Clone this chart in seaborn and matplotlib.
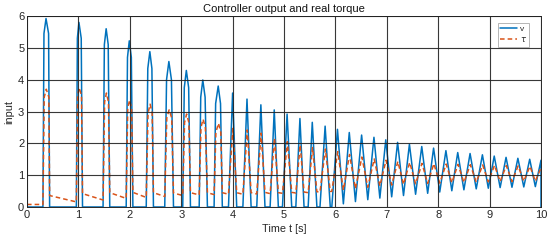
import numpy as np
import pandas as pd
import matplotlib
matplotlib.use("Agg")
import matplotlib.pyplot as plt
import seaborn as sns

# ---- data ----
peak_t = [0.37, 1.01, 1.54, 1.99, 2.39, 2.76, 3.10, 3.42, 3.72, 4.00, 4.28, 4.55,
          4.81, 5.06, 5.31, 5.55, 5.80, 6.04, 6.27, 6.51, 6.75, 6.98, 7.21, 7.44,
          7.68, 7.91, 8.15, 8.38, 8.62, 8.86, 9.09, 9.32, 9.55, 9.78, 10.0]
v_peak = [5.92, 5.80, 5.60, 5.22, 4.88, 4.57, 4.29, 3.99, 3.80, 3.58, 3.39, 3.21,
          3.05, 2.92, 2.78, 2.66, 2.54, 2.44, 2.34, 2.26, 2.19, 2.11, 2.03, 1.97,
          1.90, 1.85, 1.77, 1.71, 1.68, 1.64, 1.60, 1.56, 1.53, 1.50, 1.47]
tau_peak = [3.70, 3.75, 3.58, 3.36, 3.23, 3.05, 2.92, 2.76, 2.63, 2.47, 2.42, 2.32,
            2.16, 2.05, 1.95, 1.87, 1.82, 1.74, 1.65, 1.57, 1.51, 1.47, 1.43, 1.40,
            1.37, 1.36, 1.35, 1.34, 1.33, 1.32, 1.31, 1.30, 1.29, 1.28, 1.25]

# rounded tops of the first (large) pulses: shoulder points left / right
shoulder_l_t = [0.33, 0.98, 1.505, 1.955, 2.35, 2.715, 3.06, 3.38, 3.67]
shoulder_r_t = [0.42, 1.055, 1.58, 2.03, 2.43, 2.81, 3.145, 3.465, 3.765]
v_shoulder = [5.45, 5.30, 5.10, 4.70, 4.35, 4.00, 3.75, 3.45, 3.25]
tau_shoulder = [3.45, 3.50, 3.30, 3.10, 2.95, 2.80, 2.65, 2.50, 2.35]

# stretches where the controller output v is saturated at 0
zero_start = [0.00, 0.44, 1.08, 1.61, 2.06, 2.46, 2.85, 3.18, 3.51, 3.80, 4.08,
              4.36, 4.63, 4.89, 5.15, 5.39, 5.64, 5.90]
zero_end = [0.31, 0.96, 1.48, 1.93, 2.32, 2.68, 3.03, 3.35, 3.64, 3.92, 4.20,
            4.47, 4.73, 4.97, 5.23, 5.47, 5.70, 5.93]
tau_at_zero_start = [0.08, 0.36, 0.42, 0.45, 0.46, 0.45, 0.44, 0.45, 0.45, 0.45,
                     0.45, 0.45, 0.46, 0.45, 0.46, 0.47, 0.48, 0.49]
tau_at_zero_end = [0.08, 0.16, 0.22, 0.27, 0.30, 0.33, 0.36, 0.38, 0.39, 0.40,
                   0.40, 0.41, 0.42, 0.43, 0.44, 0.45, 0.47, 0.49]

# unsaturated troughs (late oscillation)
trough_t = [6.155, 6.39, 6.63, 6.865, 7.095, 7.325, 7.56, 7.795, 8.03, 8.265,
            8.50, 8.74, 8.975, 9.205, 9.435, 9.665, 9.89]
v_trough = [0.10, 0.17, 0.23, 0.28, 0.32, 0.36, 0.40, 0.43, 0.47, 0.51, 0.54,
            0.57, 0.59, 0.61, 0.62, 0.63, 0.64]
tau_trough = [0.53, 0.57, 0.62, 0.66, 0.69, 0.71, 0.73, 0.74, 0.75, 0.76, 0.77,
              0.78, 0.79, 0.80, 0.80, 0.81, 0.81]

v_final = 0.0  # value at the very last sample (t = 10)

# ---- assemble ordered key points ----
pts_v, pts_tau = [], []
for t, a, b in zip(peak_t, v_peak, tau_peak):
    pts_v.append((t, 0, a))
    pts_tau.append((t + 0.005, 0, b))
for tl, tr, a, b in zip(shoulder_l_t, shoulder_r_t, v_shoulder, tau_shoulder):
    pts_v.append((tl, 0, a)); pts_v.append((tr, 0, a))
    pts_tau.append((tl + 0.005, 0, b)); pts_tau.append((tr + 0.005, 0, b))
for s, e, ts, te in zip(zero_start, zero_end, tau_at_zero_start, tau_at_zero_end):
    pts_v.append((s, 0, 0.0)); pts_v.append((e, 1, 0.0))
    pts_tau.append((s, 0, ts)); pts_tau.append((e, 1, te))
for t, a, b in zip(trough_t, v_trough, tau_trough):
    pts_v.append((t, 0, a)); pts_tau.append((t, 0, b))
pts_v.append((peak_t[-1], 2, v_final))

pts_v.sort(key=lambda p: (p[0], p[1]))
pts_tau.sort(key=lambda p: (p[0], p[1]))
df_v = pd.DataFrame({"t": [p[0] for p in pts_v], "val": [p[2] for p in pts_v]})
df_tau = pd.DataFrame({"t": [p[0] for p in pts_tau], "val": [p[2] for p in pts_tau]})

# ---- plotting ----
sns.set_theme(style="white")
plt.rcParams["font.family"] = ["Liberation Sans", "DejaVu Sans"]

fig = plt.figure(figsize=(5.5, 2.4), dpi=100)
ax = fig.add_axes([27 / 550, 1 - 207 / 240, (541 - 27) / 550, (207 - 16) / 240])

sns.lineplot(data=df_v, x="t", y="val", ax=ax, color="#0072BD", lw=1.1,
             sort=False, estimator=None, label="v")
sns.lineplot(data=df_tau, x="t", y="val", ax=ax, color="#D95319", lw=1.1,
             sort=False, estimator=None, label=r"$\tau$", linestyle=(0, (3, 2)))

ax.set_xlim(0, 10)
ax.set_ylim(0, 6)
ax.set_xticks(range(0, 11))
ax.set_yticks(range(0, 7))
ax.grid(True, color="#222222", lw=0.8, alpha=0.9)
ax.set_axisbelow(False)
for sp in ax.spines.values():
    sp.set_color("#262626")
    sp.set_linewidth(0.7)
ax.tick_params(axis="both", labelsize=8, colors="#262626", direction="in",
               length=2, pad=2)
ax.set_xlabel("Time t [s]", fontsize=7.8, color="#262626", labelpad=3)
ax.set_ylabel("input", fontsize=7.8, color="#262626", labelpad=3)
ax.set_title("Controller output and real torque", fontsize=8, color="#111111", pad=3)

leg = ax.legend(loc="upper right", fontsize=6, handlelength=2.0, handletextpad=0.3,
                borderpad=0.3, labelspacing=0.2, frameon=True, fancybox=False,
                bbox_to_anchor=(0.985, 0.985), markerfirst=True)
leg.get_frame().set_edgecolor("#aaaaaa")
leg.get_frame().set_linewidth(0.6)
leg.get_frame().set_alpha(1)

fig.savefig("out.png", dpi=100)
